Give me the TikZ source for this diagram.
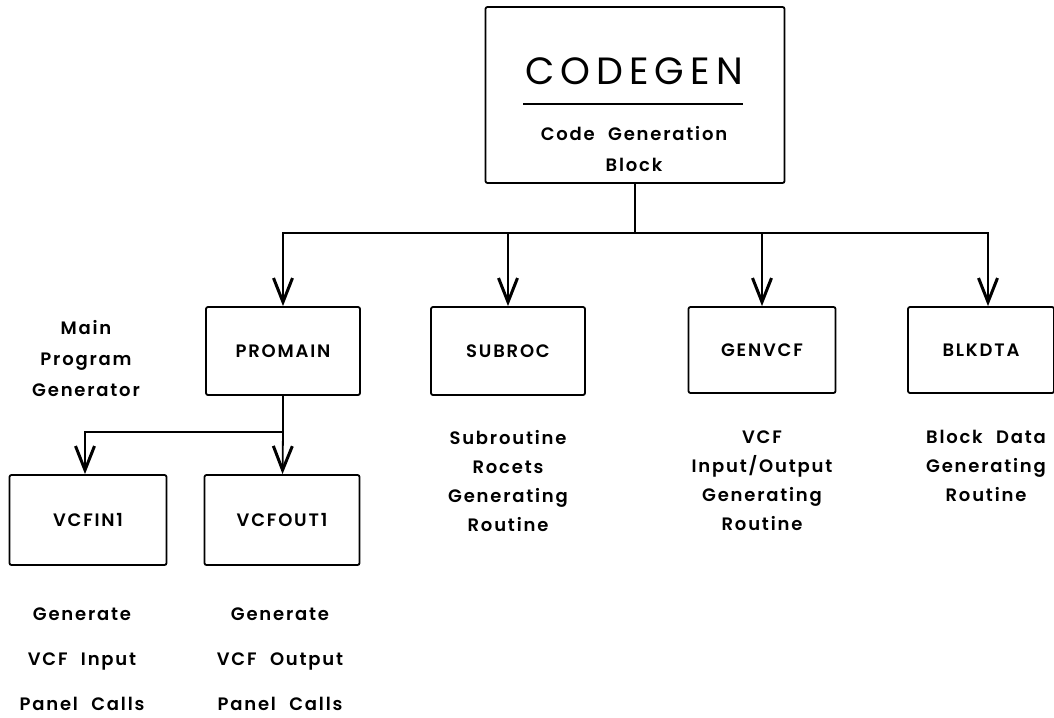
\documentclass[tikz,border=0pt]{standalone}
\usepackage{fontspec}
\setmainfont{Poppins}[LetterSpace=10,WordSpace=2.2,BoldFont={* SemiBold}]
\newfontfamily\titlefont{Poppins}[LetterSpace=16]
\usetikzlibrary{arrows.meta}

\begin{document}
\begin{tikzpicture}[x=1pt,y=-1pt,>={Straight Barb[length=24pt,width=19pt,line width=3pt]},
    box/.style={draw, line width=1.8pt, rounded corners=2pt, inner sep=0pt,
      font=\fontsize{18}{20}\selectfont\bfseries},
    note/.style={align=center, inner sep=0pt, font=\fontsize{18}{#1}\selectfont\bfseries},
    link/.style={line width=1.8pt}]
  \useasboundingbox (0,0) rectangle (1054,717);

  % top block
  \node[box, minimum width=299pt, minimum height=176pt] (codegen) at (635,95) {};
  \node[font=\fontsize{38}{40}\selectfont\titlefont, inner sep=0pt] (title) at (634,71) {CODEGEN};
  \draw[line width=1.6pt] (523,104) -- (743,104);
  \node[note=31pt] (codenote) at (634,149) {Code Generation\\Block};

  % second level
  \node[box, minimum width=154pt, minimum height=88pt] (promain) at (283,351) {PROMAIN};
  \node[box, minimum width=154pt, minimum height=88pt] (subroc) at (508,351) {SUBROC};
  \node[box, minimum width=147pt, minimum height=86pt] (genvcf) at (762,350) {GENVCF};
  \node[box, minimum width=146pt, minimum height=86pt] (blkdta) at (981,350) {BLKDTA};

  % third level
  \node[box, minimum width=157pt, minimum height=90pt] (vcfin) at (88,520) {VCFIN1};
  \node[box, minimum width=155pt, minimum height=90pt] (vcfout) at (282,520) {VCFOUT1};

  % descriptions
  \node[note=31pt] (mainnote) at (86,359) {Main\\Program\\Generator};
  \node[note=29pt] (subnote) at (508,481) {Subroutine\\Rocets\\Generating\\Routine};
  \node[note=29pt] (gennote) at (762,481) {VCF\\Input/Output\\Generating\\Routine};
  \node[note=29pt] (blknote) at (986,466) {Block Data\\Generating\\Routine};
  \node[note=45pt] (innote) at (82,659) {Generate\\VCF Input\\Panel Calls};
  \node[note=45pt] (outnote) at (280,659) {Generate\\VCF Output\\Panel Calls};

  % connectors
  \coordinate (split) at (635,233);
  \coordinate (psplit) at (283,432);
  \draw[link] (codegen) -- (split);
  \draw[link,->] (split) -| (promain);
  \draw[link,->] (split) -| (subroc);
  \draw[link,->] (split) -| (genvcf);
  \draw[link,->] (split) -| ([xshift=7pt]blkdta.north);
  \draw[link] (promain) -- (psplit);
  \draw[link,->] (psplit) -| ([xshift=-3pt]vcfin.north);
  \draw[link,->] (psplit) -- (vcfout);
\end{tikzpicture}
\end{document}
